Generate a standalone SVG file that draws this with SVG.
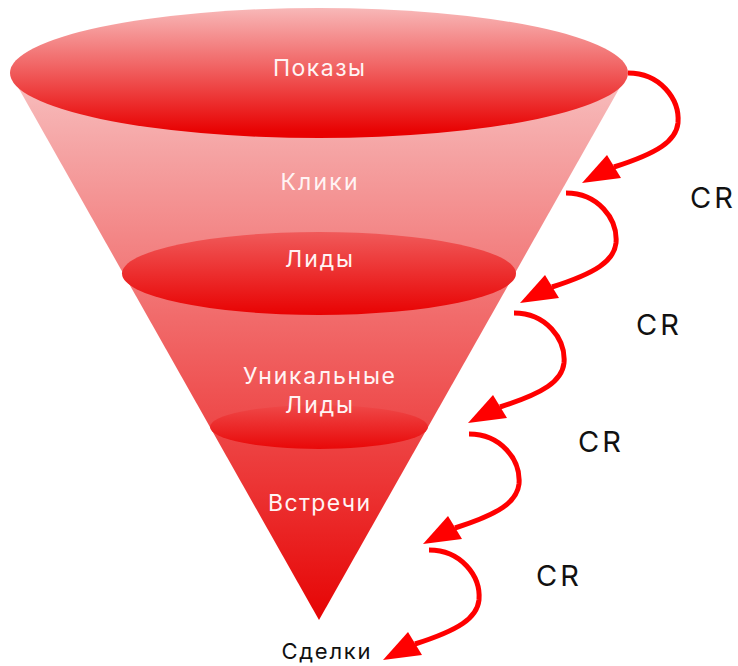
<svg xmlns="http://www.w3.org/2000/svg" width="738" height="666" viewBox="0 0 738 666">
<defs>
<linearGradient id="gCone" gradientUnits="userSpaceOnUse" x1="0" y1="73" x2="0" y2="620">
<stop offset="0" stop-color="#f8c0c0"/>
<stop offset="0.15" stop-color="#f5a2a2"/>
<stop offset="0.45" stop-color="#f16a6a"/>
<stop offset="0.75" stop-color="#ec3535"/>
<stop offset="1" stop-color="#e60404"/>
</linearGradient>
<linearGradient id="gTop" x1="0" y1="0" x2="0" y2="1">
<stop offset="0" stop-color="#f8b8b8"/>
<stop offset="0.5" stop-color="#f05a5a"/>
<stop offset="0.95" stop-color="#e80202"/>
<stop offset="1" stop-color="#e80000"/>
</linearGradient>
<linearGradient id="gLid" x1="0" y1="0" x2="0" y2="1">
<stop offset="0" stop-color="#f05a5a"/>
<stop offset="1" stop-color="#e80202"/>
</linearGradient>
<linearGradient id="gMeet" x1="0" y1="0" x2="0" y2="1">
<stop offset="0" stop-color="#ef4848"/>
<stop offset="1" stop-color="#e80202"/>
</linearGradient>
<g id="arrow">
<path d="M0,0 C32,0 52,26 50,50 C48,68 30,80 -14,94" fill="none" stroke="#ff0000" stroke-width="5"/>
<polygon points="-46,110 -21,82 -7,105" fill="#ff0000"/>
</g>
</defs>
<style>
.lbl{font-family:"Inter","Noto Sans",sans-serif;font-size:23px;fill:#fff4f4;text-anchor:middle}
.dark{font-family:"Inter","Noto Sans",sans-serif;font-size:22px;fill:#111;text-anchor:middle}
.cr{font-family:"Inter","Liberation Sans",sans-serif;font-size:29px;fill:#111}
</style>
<g id="funnel-cone">
<polygon points="10,73 628,73 319,620" fill="url(#gCone)"/>
</g>
<g id="level-pokazy">
<ellipse cx="319" cy="73" rx="309" ry="65" fill="url(#gTop)"/>
<text class="lbl" x="319" y="76" font-size="21" textLength="92">Показы</text>
</g>
<g id="level-kliki">
<text class="lbl" x="319" y="190" textLength="77">Клики</text>
</g>
<g id="level-lidy">
<ellipse cx="319" cy="273.5" rx="197" ry="41.5" fill="url(#gLid)"/>
<text class="lbl" x="319" y="267" textLength="68">Лиды</text>
</g>
<g id="level-meetings">
<ellipse cx="319" cy="427" rx="109" ry="22" fill="url(#gMeet)" opacity="0.9"/>
<text class="lbl" x="319" y="511" textLength="102">Встречи</text>
</g>
<g id="level-unique">
<text class="lbl" x="319" y="384" textLength="152">Уникальные</text>
<text class="lbl" x="319" y="413" textLength="68">Лиды</text>
</g>
<g id="level-deals">
<text class="dark" x="326" y="659" textLength="89">Сделки</text>
</g>
<g id="connectors">
<use href="#arrow" x="628" y="73"/>
<use href="#arrow" x="566" y="193"/>
<use href="#arrow" x="514" y="313"/>
<use href="#arrow" x="469" y="434"/>
<use href="#arrow" x="429" y="550"/>
</g>
<g id="cr-labels">
<text class="cr" x="690" y="208" textLength="43">CR</text>
<text class="cr" x="636" y="335" textLength="43">CR</text>
<text class="cr" x="578" y="452" textLength="43">CR</text>
<text class="cr" x="536" y="586" textLength="43">CR</text>
</g>
</svg>
